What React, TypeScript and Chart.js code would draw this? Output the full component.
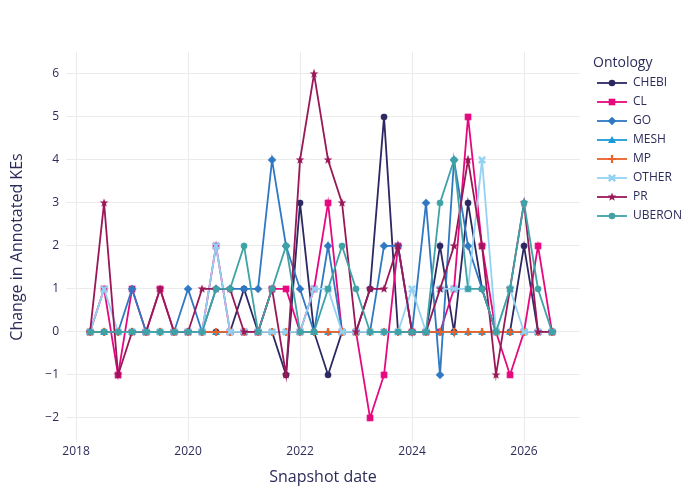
import { useEffect, useRef } from "react";
import { Chart, registerables } from "chart.js";

Chart.register(...registerables);

// quarterly snapshots
const snapshotDates = [
  "2018-04-01", "2018-07-01", "2018-10-01", "2019-01-01", "2019-04-01", "2019-07-01",
  "2019-10-01", "2020-01-01", "2020-04-01", "2020-07-01", "2020-10-01", "2021-01-01",
  "2021-04-01", "2021-07-01", "2021-10-01", "2022-01-01", "2022-04-01", "2022-07-01",
  "2022-10-01", "2023-01-01", "2023-04-01", "2023-07-01", "2023-10-01", "2024-01-01",
  "2024-04-01", "2024-07-01", "2024-10-01", "2025-01-01", "2025-04-01", "2025-07-01",
  "2025-10-01", "2026-01-01", "2026-04-01", "2026-07-01",
];

const chebi = [0, 0, 0, 0, 0, 0, 0, 0, 0, 0, 0, 1, 0, 0, -1, 3, 0, -1, 0, 0, 1, 5, 0, 0, 0, 2, 0, 3, 1, 0, 0, 2, 0, 0];
const cl = [0, 1, -1, 1, 0, 1, 0, 0, 0, 2, 0, 0, 0, 1, 1, 0, 1, 3, 0, 0, -2, -1, 2, 0, 0, 0, 1, 5, 2, 0, -1, 0, 2, 0];
const go = [0, 0, 0, 1, 0, 0, 0, 1, 0, 1, 1, 1, 1, 4, 2, 1, 0, 2, 0, 0, 0, 2, 2, 0, 3, -1, 4, 2, 1, 0, 0, 0, 0, 0];
const mesh = [0, 0, 0, 0, 0, 0, 0, 0, 0, 0, 0, 0, 0, 0, 0, 0, 0, 0, 0, 0, 0, 0, 0, 0, 0, 0, 0, 0, 0, 0, 0, 0, 0, 0];
const mp = [0, 0, 0, 0, 0, 0, 0, 0, 0, 0, 0, 0, 0, 0, 0, 0, 0, 0, 0, 0, 0, 0, 0, 0, 0, 0, 0, 0, 0, 0, 0, 0, 0, 0];
const other = [0, 1, 0, 0, 0, 0, 0, 0, 0, 2, 0, 0, 0, 0, 0, 0, 1, 1, 0, 0, 0, 0, 0, 1, 0, 1, 1, 1, 4, 0, 1, 0, 0, 0];
const pr = [0, 3, -1, 0, 0, 1, 0, 0, 1, 1, 1, 0, 0, 1, -1, 4, 6, 4, 3, 0, 1, 1, 2, 0, 0, 1, 2, 4, 2, -1, 1, 3, 0, 0];
const uberon = [0, 0, 0, 0, 0, 0, 0, 0, 0, 1, 1, 2, 0, 1, 2, 0, 0, 1, 2, 1, 0, 0, 0, 0, 0, 3, 4, 1, 1, 0, 1, 3, 1, 0];

const ontologies = ["CHEBI", "CL", "GO", "MESH", "MP", "OTHER", "PR", "UBERON"];
const seriesValues = [chebi, cl, go, mesh, mp, other, pr, uberon];
const colors = ["#2b2862", "#e5087e", "#2f78c2", "#1b9bd8", "#e9622a", "#93d2f2", "#9a1858", "#3ea2a6"];
const symbols = ["circle", "square", "diamond", "triangle", "cross", "x", "star", "circle"];

const xTicks = [2018, 2020, 2022, 2024, 2026];
const yTicks = [-2, -1, 0, 1, 2, 3, 4, 5, 6];

const textColor = "#2c2c5a";
const font = "Open Sans";

function toYear(d: string) {
  const [y, m] = d.split("-").map(Number);
  return y + (m - 1) / 12;
}

function makeMarker(kind: string, color: string): HTMLCanvasElement {
  const s = 12;
  const c = document.createElement("canvas");
  c.width = s;
  c.height = s;
  const g = c.getContext("2d")!;
  const m = s / 2;
  g.fillStyle = color;
  g.strokeStyle = color;
  g.beginPath();
  if (kind === "circle") {
    g.arc(m, m, 3.3, 0, Math.PI * 2);
    g.fill();
  } else if (kind === "square") {
    g.fillRect(m - 3.3, m - 3.3, 6.6, 6.6);
  } else if (kind === "diamond") {
    g.moveTo(m, m - 4.3);
    g.lineTo(m + 4.3, m);
    g.lineTo(m, m + 4.3);
    g.lineTo(m - 4.3, m);
    g.closePath();
    g.fill();
  } else if (kind === "triangle") {
    g.moveTo(m, m - 4);
    g.lineTo(m + 4, m + 3);
    g.lineTo(m - 4, m + 3);
    g.closePath();
    g.fill();
  } else if (kind === "cross") {
    g.lineWidth = 2.2;
    g.moveTo(m - 4, m);
    g.lineTo(m + 4, m);
    g.moveTo(m, m - 4);
    g.lineTo(m, m + 4);
    g.stroke();
  } else if (kind === "x") {
    g.lineWidth = 2.4;
    g.moveTo(m - 3.2, m - 3.2);
    g.lineTo(m + 3.2, m + 3.2);
    g.moveTo(m + 3.2, m - 3.2);
    g.lineTo(m - 3.2, m + 3.2);
    g.stroke();
  } else if (kind === "star") {
    for (let k = 0; k < 10; k++) {
      const r = k % 2 === 0 ? 4.6 : 1.9;
      const a = -Math.PI / 2 + (k * Math.PI) / 5;
      const px = m + r * Math.cos(a);
      const py = m + r * Math.sin(a);
      if (k === 0) g.moveTo(px, py);
      else g.lineTo(px, py);
    }
    g.closePath();
    g.fill();
  }
  return c;
}

export default function App() {
  const canvasRef = useRef<HTMLCanvasElement | null>(null);

  useEffect(() => {
    document.body.style.margin = "0";
    if (!canvasRef.current) return;
    const xs = snapshotDates.map(toYear);
    const markerImgs = ontologies.map((_, i) => makeMarker(symbols[i], colors[i]));

    const datasets = ontologies.map((name, i) => ({
      label: name,
      data: seriesValues[i].map((v, j) => ({ x: xs[j], y: v })),
      borderColor: colors[i],
      backgroundColor: colors[i],
      borderWidth: 1.8,
      pointStyle: markerImgs[i] as any,
      pointRadius: 4,
      tension: 0,
      order: ontologies.length - i,
    }));

    const overlay = {
      id: "overlay",
      afterDraw(chart: any) {
        const ctx = chart.ctx as CanvasRenderingContext2D;
        const area = chart.chartArea;
        ctx.save();
        ctx.fillStyle = textColor;
        // axis titles
        ctx.font = `16px "${font}"`;
        ctx.textAlign = "center";
        ctx.textBaseline = "middle";
        ctx.fillText("Snapshot date", (area.left + area.right) / 2, 477);
        ctx.save();
        ctx.translate(17, (area.top + area.bottom) / 2);
        ctx.rotate(-Math.PI / 2);
        ctx.fillText("Change in Annotated KEs", 0, 0);
        ctx.restore();
        // legend
        ctx.textAlign = "left";
        ctx.font = `14px "${font}"`;
        ctx.fillText("Ontology", 593, 63);
        ctx.font = `12px "${font}"`;
        ontologies.forEach((name, i) => {
          const y = 83 + i * 19;
          ctx.strokeStyle = colors[i];
          ctx.lineWidth = 1.8;
          ctx.beginPath();
          ctx.moveTo(597, y);
          ctx.lineTo(627, y);
          ctx.stroke();
          const img = markerImgs[i];
          ctx.drawImage(img, 612 - img.width / 2, y - img.height / 2);
          ctx.fillStyle = textColor;
          ctx.fillText(name, 633, y);
        });
        ctx.restore();
      },
    };

    const chart = new Chart(canvasRef.current, {
      type: "line",
      data: { datasets },
      options: {
        animation: false,
        responsive: false,
        layout: { padding: { left: 0, right: 120, top: 52, bottom: 0 } },
        plugins: { legend: { display: false }, tooltip: { enabled: false } },
        scales: {
          x: {
            type: "linear",
            min: 2017.82,
            max: 2027.0,
            afterBuildTicks: (s: any) => {
              s.ticks = xTicks.map((v) => ({ value: v }));
            },
            afterFit: (s: any) => {
              s.height = 58;
            },
            grid: { color: "#ebebeb", drawTicks: false },
            border: { display: false },
            ticks: {
              padding: 2,
              color: textColor,
              font: { family: font, size: 12 },
              callback: (v: any) => String(v),
            },
          },
          y: {
            min: -2.56,
            max: 6.51,
            afterBuildTicks: (s: any) => {
              s.ticks = yTicks.map((v) => ({ value: v }));
            },
            afterFit: (s: any) => {
              s.width = 66;
            },
            grid: { color: "#ebebeb", drawTicks: false },
            border: { display: false },
            ticks: {
              padding: 7,
              color: textColor,
              font: { family: font, size: 12 },
              callback: (v: any) => (v < 0 ? "\u2212" + Math.abs(v) : String(v)),
            },
          },
        },
      } as any,
      plugins: [overlay],
    });

    return () => {
      chart.destroy();
    };
  }, []);

  return (
    <div style={{ width: 700, height: 500, background: "#fff" }}>
      <canvas ref={canvasRef} width={700} height={500} />
    </div>
  );
}
